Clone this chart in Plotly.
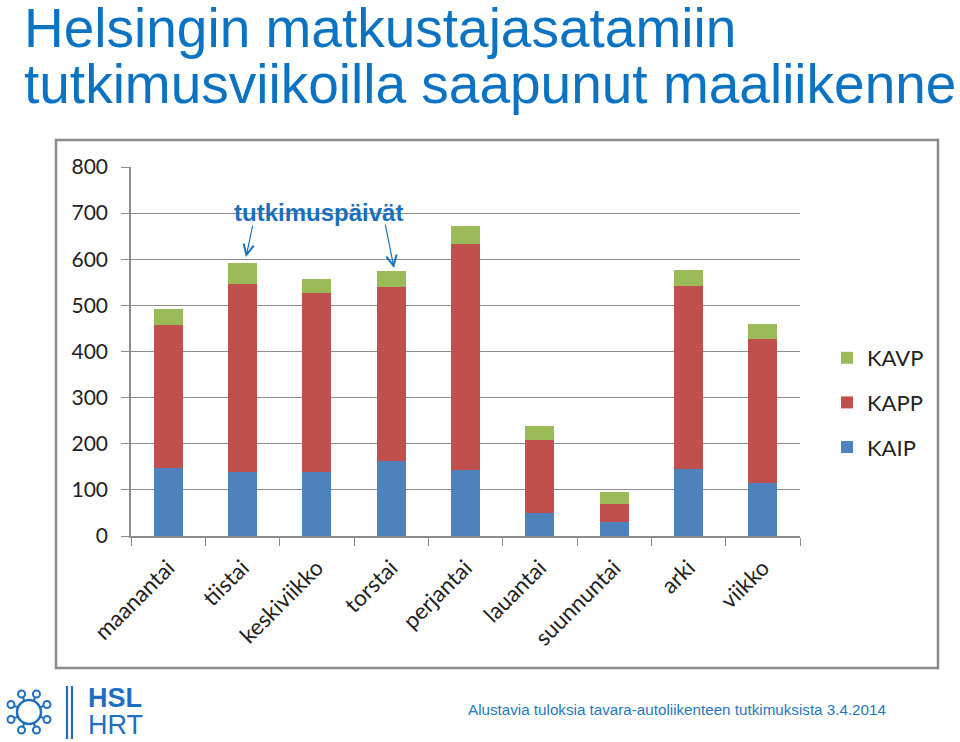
import math
import plotly.graph_objects as go

# ---- data ----
categories = ["maanantai", "tiistai", "keskiviikko", "torstai", "perjantai",
              "lauantai", "suunnuntai", "arki", "viikko"]
kaip = [148, 139, 139, 163, 143, 49, 31, 146, 116]
kapp = [309, 408, 387, 376, 490, 159, 38, 395, 311]
kavp = [35, 44, 31, 35, 40, 31, 26, 36, 33]
y_ticks = [0, 100, 200, 300, 400, 500, 600, 700, 800]

title_lines = ["Helsingin matkustajasatamiin",
               "tutkimusviikoilla saapunut maaliikenne"]
annotation_text = "tutkimuspäivät"
footer_text = "Alustavia tuloksia tavara-autoliikenteen tutkimuksista 3.4.2014"

W, H = 960, 742
def px(x):
    return x / W
def py(y):
    return 1 - y / H

BLUE_T = "#0b73c2"
GRID = "#8c8c8c"
FONT = "Lato, 'Open Sans', sans-serif"

fig = go.Figure()
series = [("KAIP", kaip, "#4f81bd", 3), ("KAPP", kapp, "#c0504d", 2), ("KAVP", kavp, "#9bbb59", 1)]
for name, vals, col, rank in series:
    fig.add_trace(go.Bar(x=categories, y=vals, name=name, marker=dict(color=col, line=dict(width=0)),
                         legendgroup=name, legendrank=rank))

fig.update_layout(
    width=W, height=H,
    margin=dict(l=0, r=0, t=0, b=0, autoexpand=False),
    paper_bgcolor="white", plot_bgcolor="white",
    barmode="stack", bargap=0.61,
    font=dict(family=FONT, color="#222222"),
    showlegend=True,
    legend=dict(x=px(827), y=py(402.5), xanchor="left", yanchor="middle",
                traceorder="grouped", tracegroupgap=13,
                font=dict(family=FONT, size=22, color="#222222"),
                bgcolor="rgba(0,0,0,0)"),
    xaxis=dict(domain=[px(131), px(800)], showline=True, linecolor=GRID, linewidth=1.5,
               ticks="outside", tickson="boundaries", ticklen=8, tickcolor=GRID, tickwidth=1.2,
               tickangle=-45, tickfont=dict(family=FONT, size=22.5, color="#222222"),
               ticklabelstandoff=8,
               showgrid=False, fixedrange=True),
    yaxis=dict(domain=[py(536), py(167)], range=[0, 800], tickvals=y_ticks,
               showline=True, linecolor=GRID, linewidth=1.5,
               ticks="outside", ticklen=8, tickcolor=GRID, tickwidth=1.2,
               showgrid=True, gridcolor=GRID, gridwidth=1.3, zeroline=False,
               ticklabelstandoff=9,
               tickfont=dict(family=FONT, size=21, color="#222222"), fixedrange=True),
)

annotations = []
# title
annotations.append(dict(text=title_lines[0], x=px(22), y=py(28), xref="paper", yref="paper",
                        xanchor="left", yanchor="middle", showarrow=False,
                        font=dict(family="Liberation Sans, Arial", size=55, color=BLUE_T)))
annotations.append(dict(text=title_lines[1], x=px(22), y=py(84), xref="paper", yref="paper",
                        xanchor="left", yanchor="middle", showarrow=False,
                        font=dict(family="Liberation Sans, Arial", size=55, color=BLUE_T)))
# tutkimuspäivät
annotations.append(dict(text="<b>" + annotation_text + "</b>", x=px(318), y=py(212), xref="paper", yref="paper",
                        xanchor="center", yanchor="middle", showarrow=False,
                        font=dict(family="Liberation Sans, Arial", size=24, color="#1a6fbc")))
annotations.append(dict(text="", x=px(246), y=py(257), xref="paper", yref="paper",
                        ax=7, ay=-33, showarrow=True, arrowhead=5, arrowsize=1.7,
                        arrowwidth=1.2, arrowcolor="#1a6fbc", standoff=0))
annotations.append(dict(text="", x=px(394), y=py(268), xref="paper", yref="paper",
                        ax=-9, ay=-45, showarrow=True, arrowhead=5, arrowsize=1.7,
                        arrowwidth=1.2, arrowcolor="#1a6fbc", standoff=0))
# footer
annotations.append(dict(text=footer_text, x=px(466), y=py(709), xref="paper", yref="paper",
                        xanchor="left", yanchor="middle", showarrow=False,
                        font=dict(family="Liberation Sans, Arial", size=15.2, color="#1f78c0")))
# logo text
LOGO = "#1f6fc0"
annotations.append(dict(text="<b>HSL</b>", x=px(86), y=py(698), xref="paper", yref="paper",
                        xanchor="left", yanchor="middle", showarrow=False,
                        font=dict(family="Liberation Sans, Arial", size=27, color=LOGO)))
annotations.append(dict(text="HRT", x=px(86), y=py(725), xref="paper", yref="paper",
                        xanchor="left", yanchor="middle", showarrow=False,
                        font=dict(family="Liberation Sans, Arial", size=27, color=LOGO)))
fig.update_layout(annotations=annotations)

shapes = []
# chart frame
shapes.append(dict(type="rect", xref="paper", yref="paper", x0=px(56), x1=px(938), y0=py(668), y1=py(140),
                   line=dict(color="#8a8a8a", width=2.5), fillcolor="rgba(0,0,0,0)", layer="below"))
# logo ring
cx, cy, r = 29, 712, 12
shapes.append(dict(type="circle", xref="paper", yref="paper", x0=px(cx - r), x1=px(cx + r),
                   y0=py(cy + r), y1=py(cy - r), line=dict(color=LOGO, width=2.5)))
for k in range(8):
    a = math.pi / 8 + k * math.pi / 4
    ox, oy = cx + 19.5 * math.cos(a), cy + 19.5 * math.sin(a)
    shapes.append(dict(type="circle", xref="paper", yref="paper", x0=px(ox - 3.5), x1=px(ox + 3.5),
                       y0=py(oy + 3.5), y1=py(oy - 3.5), line=dict(color=LOGO, width=2)))
    sx, sy = cx + r * math.cos(a), cy + r * math.sin(a)
    ex, ey = cx + 16 * math.cos(a), cy + 16 * math.sin(a)
    shapes.append(dict(type="line", xref="paper", yref="paper", x0=px(sx), x1=px(ex),
                       y0=py(sy), y1=py(ey), line=dict(color=LOGO, width=2)))
# logo bars
for lx in (67, 72):
    shapes.append(dict(type="line", xref="paper", yref="paper", x0=px(lx), x1=px(lx),
                       y0=py(686), y1=py(739), line=dict(color=LOGO, width=2.2)))
fig.update_layout(shapes=shapes)

fig.write_html("out.html")
